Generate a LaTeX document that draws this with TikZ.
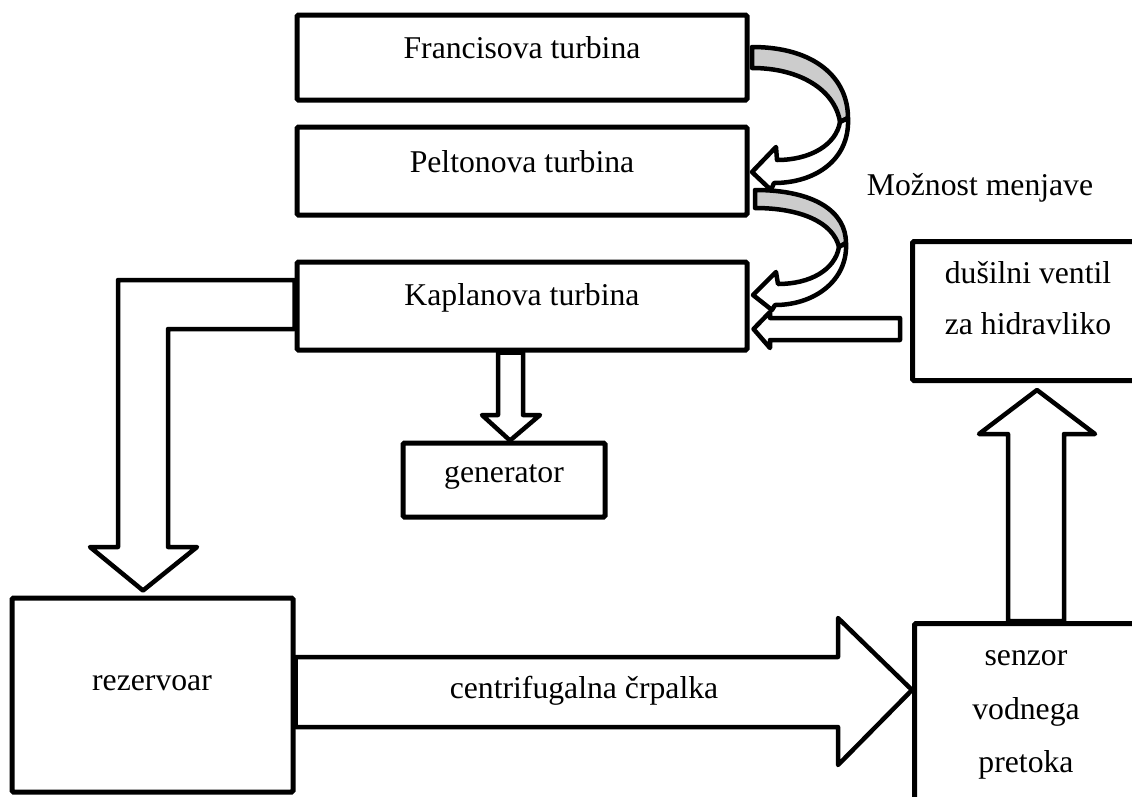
\documentclass[tikz,border=0pt]{standalone}
\usepackage{fontspec}
\setmainfont{Liberation Serif}
\usetikzlibrary{calc}
\tikzset{
  box/.style={draw=black, line width=5pt, rounded corners=1.5pt, fill=white, inner sep=0pt},
  txt/.style={font=\fontsize{31.7}{40}\selectfont, inner sep=0pt, anchor=base},
  blockarrow/.style={draw=black, line width=4.5pt, line join=round, fill=white},
  backband/.style={draw=black, line width=4.5pt, line join=round, fill=gray!40},
}
\begin{document}
\begin{tikzpicture}[x=1pt, y=-1pt]
\path[use as bounding box] (0,0) rectangle (1132,796);
\clip (0,0) rectangle (1132,796);

% boxes
\node[box, minimum width=450pt, minimum height=85pt] (fr) at (522,57.5) {};
\node[box, minimum width=450pt, minimum height=88pt] (pe) at (522,171) {};
\node[box, minimum width=450pt, minimum height=88pt] (ka) at (522,306) {};
\node[box, minimum width=202pt, minimum height=74pt] (ge) at (504,480) {};
\node[box, minimum width=281pt, minimum height=194pt] (re) at (152.5,695) {};
\node[box, minimum width=240pt, minimum height=139pt, anchor=north west] (du) at (910,239) {};
\node[box, minimum width=240pt, minimum height=200pt, anchor=north west] (se) at (912,621) {};

% texts
\node[txt] (tfr) at (522,58) {Francisova turbina};
\node[txt] (tpe) at (522,172) {Peltonova turbina};
\node[txt] (tka) at (522,305) {Kaplanova turbina};
\node[txt] (tge) at (504,482) {generator};
\node[txt] (tre) at (152,690) {rezervoar};
\node[txt] (tdu1) at (1028,283) {dušilni ventil};
\node[txt] (tdu2) at (1028,334) {za hidravliko};
\node[txt] (tse1) at (1026,665) {senzor};
\node[txt] (tse2) at (1026,719) {vodnega};
\node[txt] (tse3) at (1026,772) {pretoka};
\node[txt] (tmo) at (980,195) {Možnost menjave};

% curved arrow 1 (Francisova -> Peltonova)
\draw[backband] (752,47) .. controls (815,47) and (848,78) .. (848,118)
  -- (840,122) .. controls (835,90) and (800,68) .. (752,68) -- cycle;
\draw[blockarrow] (848,118) .. controls (850,160) and (815,183) .. (774,183)
  -- (771,190) -- (752,172) -- (776,147) -- (777,160)
  .. controls (810,160) and (836,145) .. (840,122) -- cycle;

% curved arrow 2 (Peltonova -> Kaplanova)
\draw[backband] (755,190) .. controls (815,190) and (846,212) .. (846,243)
  -- (839,247) .. controls (833,222) and (800,208) .. (755,208) -- cycle;
\draw[blockarrow] (846,243) .. controls (848,280) and (815,305) .. (775,305)
  -- (772,310) -- (753,295) -- (776,272) -- (778,284)
  .. controls (810,284) and (835,270) .. (839,247) -- cycle;

% dusilni ventil -> Kaplanova
\draw[blockarrow] ($(du.west |- 0,318)+(-10,0)$)
  -- (770,318) -- (770,312) -- ($(ka.east |- 0,329)+(4,0)$) -- (770,348) -- (770,340)
  -- ($(du.west |- 0,340)+(-10,0)$) -- cycle;

% Kaplanova -> rezervoar (elbow)
\draw[blockarrow] (ka.west |- 0,280) -- (118,280) -- (118,547) -- (90,547)
  -- ($(re.north -| 143,0)+(0,-5)$) -- (197,547) -- (168,547) -- (168,329)
  -- (ka.west |- 0,329) -- cycle;

% Kaplanova -> generator
\draw[blockarrow] (ka.south -| 498,0) -- (498,415) -- (482,415) -- (ge.north -| 510,0)
  -- (540,415) -- (523,415) -- (ka.south -| 523,0) -- cycle;

% rezervoar -> senzor (centrifugalna crpalka)
\draw[blockarrow] (re.east |- 0,657) -- (838,657) -- (838,618) -- (se.west |- 0,690)
  -- (838,765) -- (838,727) -- (re.east |- 0,727) -- cycle;
\node[txt] (tce) at (584,698) {centrifugalna črpalka};

% senzor -> dusilni ventil
\draw[blockarrow] (se.north -| 1008,0) -- (1008,434) -- (979,434) -- ($(du.south -| 1037,0)+(0,7)$)
  -- (1095,434) -- (1064,434) -- (se.north -| 1064,0) -- cycle;
\end{tikzpicture}
\end{document}
